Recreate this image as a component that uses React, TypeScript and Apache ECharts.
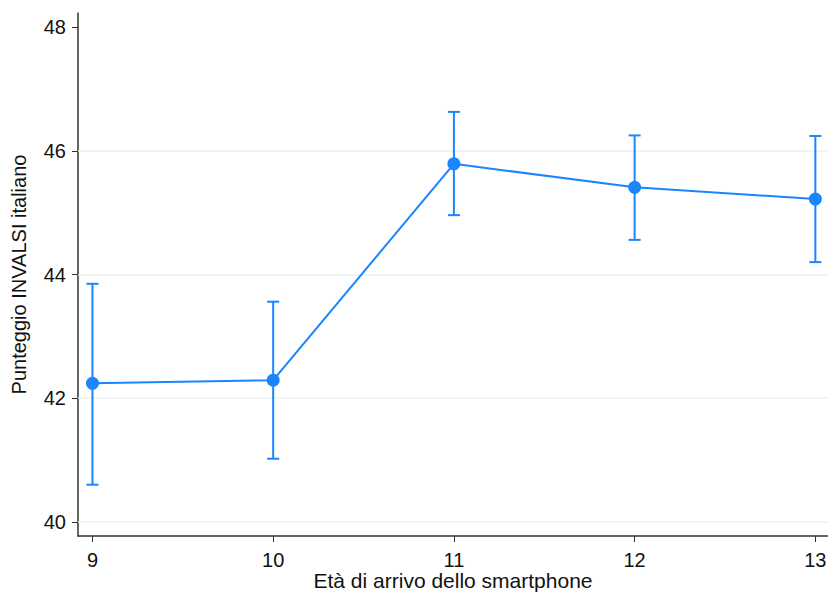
import React, { useEffect, useRef } from "react";
import * as echarts from "echarts";

const ages = [9, 10, 11, 12, 13];
const means = [42.24, 42.29, 45.79, 45.41, 45.22];
const lower = [40.6, 41.02, 44.96, 44.56, 44.2];
const upper = [43.85, 43.56, 46.63, 46.25, 46.24];
const yTicks = [40, 42, 44, 46, 48];
const gridValues = [40, 42, 44, 46];

const BLUE = "#1a85ff";

export default function App() {
  const ref = useRef<HTMLDivElement>(null);
  useEffect(() => {
    if (!ref.current) return;
    const chart = echarts.init(ref.current, null, { renderer: "svg" });
    const errData = ages.map((a, i) => [a, lower[i], upper[i]]);
    chart.setOption({
      animation: false,
      backgroundColor: "#ffffff",
      textStyle: { fontFamily: "Liberation Sans, Arial, sans-serif" },
      grid: { left: 78, right: 0, top: 13, bottom: 58, outerBoundsMode: "none", containLabel: false },
      xAxis: {
        type: "value",
        min: 8.92,
        max: 13.07,
        name: "Età di arrivo dello smartphone",
        nameLocation: "middle",
        nameGap: 34,
        nameMoveOverlap: false,
        nameTextStyle: { fontSize: 21, color: "#111" },
        axisLine: { show: true, onZero: false, lineStyle: { color: "#333", width: 1.5 } },
        axisTick: { show: true, length: 6, customValues: ages, lineStyle: { color: "#333" } },
        axisLabel: { customValues: ages, fontSize: 20, color: "#111", margin: 14 },
        splitLine: { show: false },
      },
      yAxis: {
        type: "value",
        min: 39.77,
        max: 48.23,
        name: "Punteggio INVALSI italiano",
        nameLocation: "middle",
        nameGap: 49,
        nameMoveOverlap: false,
        nameTextStyle: { fontSize: 20, color: "#111" },
        axisLine: { show: true, onZero: false, lineStyle: { color: "#333", width: 1.5 } },
        axisTick: { show: true, length: 6, customValues: yTicks, lineStyle: { color: "#333" } },
        axisLabel: { customValues: yTicks, fontSize: 20, color: "#111", margin: 12 },
        splitLine: { show: false },
      },
      series: [
        {
          type: "custom",
          data: errData,
          z: 2,
          renderItem: (params: any, api: any) => {
            const x = api.value(0);
            const lo = api.coord([x, api.value(1)]);
            const hi = api.coord([x, api.value(2)]);
            const hw = 6;
            const style = { stroke: BLUE, lineWidth: 2 };
            return {
              type: "group",
              children: [
                { type: "line", shape: { x1: lo[0], y1: lo[1], x2: hi[0], y2: hi[1] }, style },
                { type: "line", shape: { x1: lo[0] - hw, y1: lo[1], x2: lo[0] + hw, y2: lo[1] }, style },
                { type: "line", shape: { x1: hi[0] - hw, y1: hi[1], x2: hi[0] + hw, y2: hi[1] }, style },
              ],
            };
          },
        },
        {
          type: "line",
          data: ages.map((a, i) => [a, means[i]]),
          z: 3,
          symbol: "circle",
          symbolSize: 13,
          itemStyle: { color: BLUE },
          lineStyle: { color: BLUE, width: 2 },
          markLine: {
            silent: true,
            symbol: "none",
            label: { show: false },
            lineStyle: { color: "#eaf0f2", width: 1.5, type: "solid" },
            data: gridValues.map((v) => ({ yAxis: v })),
            z: 1,
          },
        },
      ],
    });
    return () => chart.dispose();
  }, []);
  return (
    <div
      ref={ref}
      style={{ position: "absolute", left: 0, top: 0, width: 828, height: 594 }}
    />
  );
}
